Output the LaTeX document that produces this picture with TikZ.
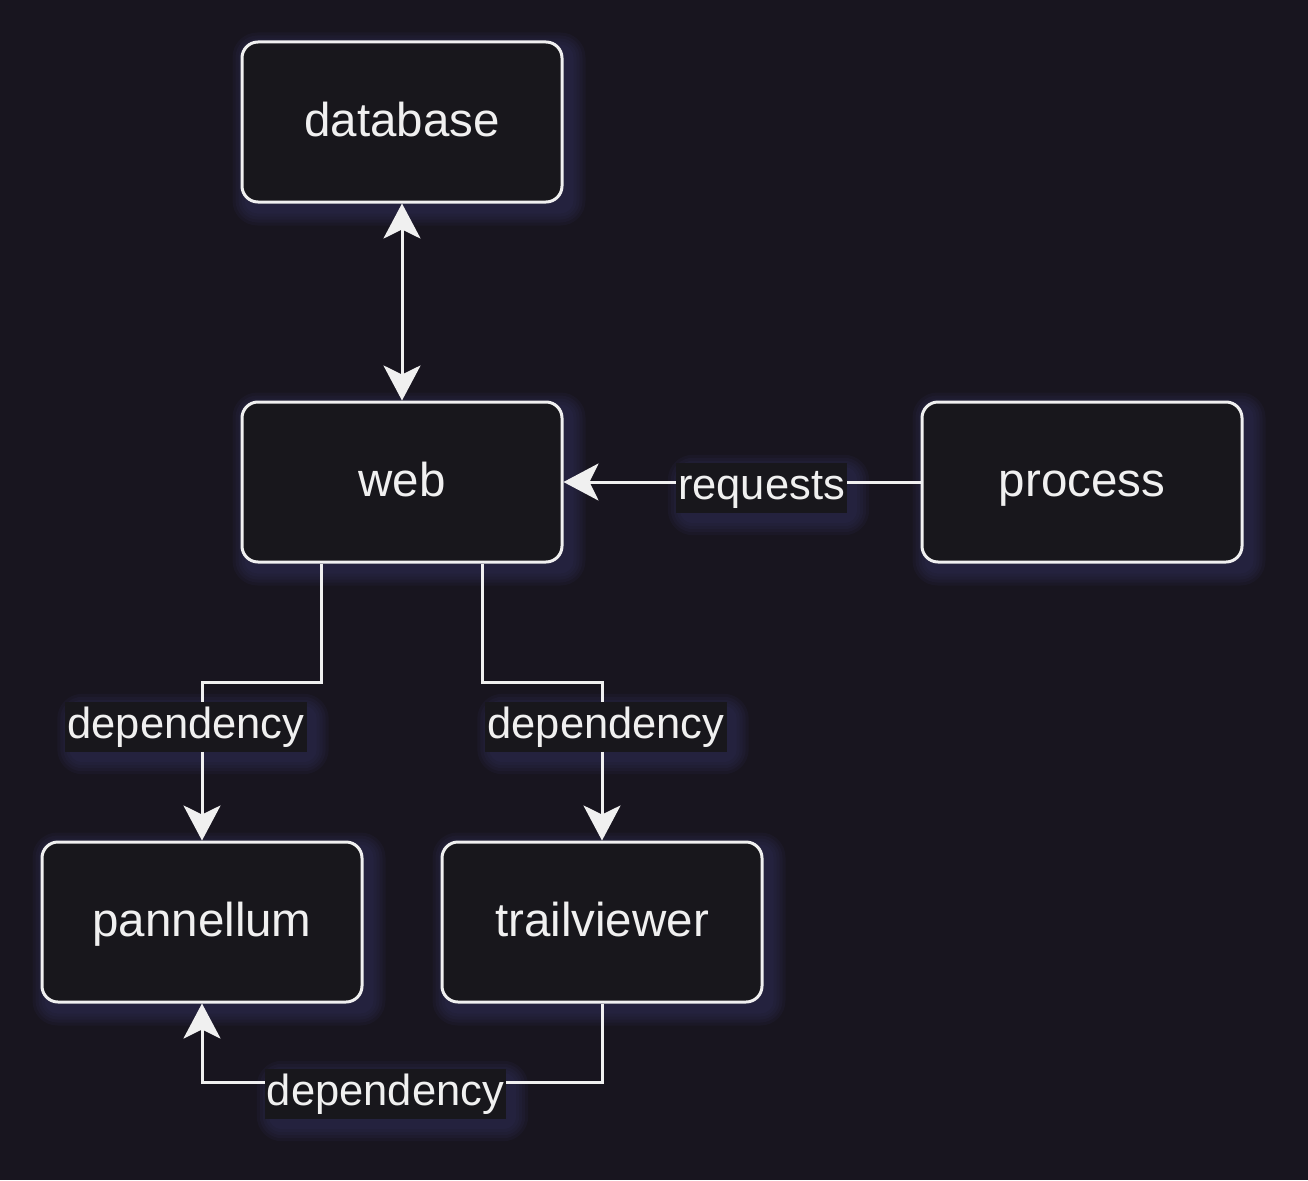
\documentclass[tikz,border=0pt]{standalone}
\usepackage{fontspec}
\setmainfont{Liberation Sans}
\usetikzlibrary{arrows.meta,calc}
\definecolor{bgc}{RGB}{24,21,31}
\definecolor{boxfill}{RGB}{24,23,28}
\definecolor{fg}{RGB}{240,240,240}
\definecolor{shadowc}{RGB}{52,52,100}
\pgfdeclarelayer{bgfill}
\pgfdeclarelayer{glow}
\pgfsetlayers{bgfill,glow,main}
\begin{document}
\begin{tikzpicture}[x=1pt,y=-1pt,
  box/.style={draw=fg, fill=boxfill, line width=3pt, rounded corners=16pt,
    minimum width=320pt, minimum height=160pt, inner sep=0pt, text=fg,
    font=\fontsize{47.5}{57}\selectfont, text height=36pt, text depth=8pt},
  lbl/.style={fill=boxfill, text=fg, inner xsep=2pt, inner ysep=0pt,
    font=\fontsize{43.5}{52}\selectfont, text height=36pt, text depth=14pt},
  conn/.style={draw=fg, line width=3pt},
  glowfill/.style={fill=shadowc, fill opacity=0.12},
  tipend/.style={-{Stealth[length=35pt,width=37pt,inset=9pt]}},
  tipboth/.style={{Stealth[length=35pt,width=37pt,inset=9pt]}-{Stealth[length=35pt,width=37pt,inset=9pt]}}
]
\begin{pgfonlayer}{bgfill}
\fill[bgc] (0,0) rectangle (1308,1180);
\end{pgfonlayer}
\useasboundingbox (0,0) rectangle (1308,1180);

\node[box] (db) at (402,122) {database};
\node[box] (web) at (402,482) {web};
\node[box] (proc) at (1082,482) {process};
\node[box] (pann) at (202,922) {pannellum};
\node[box] (trail) at (602,922) {trailviewer};

\coordinate (w1) at ($(web.south west)!0.25!(web.south east)$);
\coordinate (w2) at ($(web.south west)!0.75!(web.south east)$);
\coordinate (k1) at (202,682);
\coordinate (k2) at (602,682);
\coordinate (k3) at (202,1082);

\draw[conn, tipboth] (db.south) -- (web.north);
\draw[conn, tipend] (proc.west) -- (web.east);
\draw[conn, tipend] (w1) |- (k1) -- (pann.north);
\draw[conn, tipend] (w2) |- (k2) -- (trail.north);
\draw[conn, tipend] (trail.south) |- (k3) -- (pann.south);

\node[lbl] (l1) at (761.5,488) {requests};
\node[lbl] (l2) at (186,727) {dependency};
\node[lbl] (l3) at (606,727) {dependency};
\node[lbl] (l4) at (385.5,1094) {dependency};

\begin{pgfonlayer}{glow}
\foreach \n in {db,web,proc,pann,trail,l1,l2,l3,l4}{
  \foreach \r in {15,12,9,6,3}{
    \fill[glowfill, rounded corners=10pt+\r pt]
      ($(\n.north west)+(7-\r,7-\r)$) rectangle ($(\n.south east)+(7+\r,7+\r)$);
  }
}
\end{pgfonlayer}
\end{tikzpicture}
\end{document}
